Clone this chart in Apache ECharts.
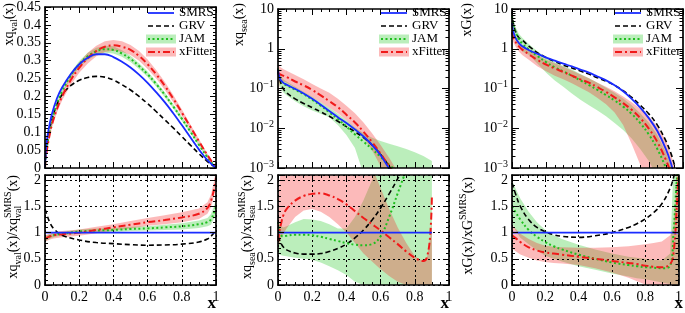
<!DOCTYPE html>
<html>
<head>
<meta charset="utf-8">
<script src="https://cdn.jsdelivr.net/npm/echarts@6/dist/echarts.min.js"></script>
<style>
  html, body { margin: 0; padding: 0; background: #fff; }
  #root { width: 685px; height: 313px; }
</style>
</head>
<body>
<div id="root"></div>
<script>
// ---- valence: x*q_val(x) ----
const xVal = [0, 0.005, 0.01, 0.02, 0.04, 0.07, 0.1, 0.15, 0.2, 0.25, 0.3, 0.35, 0.4, 0.45, 0.5, 0.55, 0.6, 0.65, 0.7, 0.75, 0.8, 0.85, 0.9, 0.95, 1]
const smrsVal = [0, 0.05, 0.074, 0.105, 0.15, 0.195, 0.225, 0.262, 0.29, 0.308, 0.318, 0.318, 0.31, 0.297, 0.281, 0.261, 0.238, 0.212, 0.184, 0.153, 0.12, 0.086, 0.052, 0.022, 0]
const grvVal = [0, 0.04, 0.06, 0.09, 0.135, 0.178, 0.205, 0.23, 0.245, 0.253, 0.256, 0.254, 0.246, 0.233, 0.218, 0.2, 0.18, 0.158, 0.135, 0.112, 0.088, 0.064, 0.04, 0.018, 0]
const jamVal = [0, 0.035, 0.055, 0.085, 0.13, 0.18, 0.215, 0.258, 0.29, 0.312, 0.326, 0.332, 0.33, 0.32, 0.305, 0.285, 0.262, 0.235, 0.205, 0.172, 0.138, 0.102, 0.065, 0.03, 0]
const jamValLo = [0, 0.033, 0.052, 0.081, 0.125, 0.174, 0.208, 0.25, 0.281, 0.302, 0.316, 0.322, 0.32, 0.311, 0.296, 0.277, 0.254, 0.228, 0.198, 0.166, 0.132, 0.097, 0.061, 0.028, 0]
const jamValHi = [0, 0.037, 0.058, 0.089, 0.135, 0.186, 0.222, 0.266, 0.299, 0.322, 0.336, 0.342, 0.34, 0.329, 0.314, 0.293, 0.27, 0.242, 0.212, 0.178, 0.144, 0.107, 0.069, 0.032, 0]
const xfVal = [0, 0.03, 0.046, 0.075, 0.12, 0.165, 0.2, 0.245, 0.28, 0.307, 0.327, 0.339, 0.343, 0.339, 0.33, 0.313, 0.29, 0.262, 0.23, 0.194, 0.155, 0.115, 0.075, 0.036, 0]
const xfValLo = [0, 0.027, 0.042, 0.069, 0.112, 0.155, 0.189, 0.232, 0.266, 0.292, 0.312, 0.324, 0.328, 0.325, 0.316, 0.3, 0.277, 0.25, 0.219, 0.184, 0.146, 0.108, 0.069, 0.032, 0]
const xfValHi = [0, 0.033, 0.05, 0.081, 0.128, 0.175, 0.211, 0.258, 0.294, 0.322, 0.342, 0.354, 0.358, 0.354, 0.344, 0.327, 0.303, 0.274, 0.241, 0.204, 0.164, 0.122, 0.081, 0.04, 0]

const xValR = [0, 0.01, 0.03, 0.05, 0.1, 0.2, 0.3, 0.4, 0.5, 0.6, 0.7, 0.8, 0.9, 0.95, 0.97, 0.99, 1]
const grvValR = [1.45, 1.35, 1.18, 1.08, 0.95, 0.86, 0.81, 0.79, 0.77, 0.76, 0.765, 0.78, 0.82, 0.88, 0.93, 1.0, 1.05]
const jamValR = [0.88, 0.9, 0.93, 0.95, 0.98, 1.02, 1.04, 1.05, 1.07, 1.08, 1.1, 1.12, 1.16, 1.2, 1.25, 1.4, 1.5]
const jamValRLo = [0.83, 0.85, 0.89, 0.91, 0.95, 0.98, 1.0, 1.01, 1.03, 1.04, 1.05, 1.06, 1.09, 1.12, 1.15, 1.28, 1.36]
const jamValRHi = [0.93, 0.95, 0.97, 0.99, 1.01, 1.06, 1.08, 1.09, 1.11, 1.12, 1.15, 1.18, 1.23, 1.28, 1.35, 1.52, 1.64]
const xfValR = [0.88, 0.9, 0.93, 0.95, 0.97, 1.0, 1.05, 1.1, 1.15, 1.2, 1.24, 1.29, 1.36, 1.47, 1.6, 1.85, 2.05]
const xfValRLo = [0.82, 0.84, 0.87, 0.89, 0.91, 0.94, 0.99, 1.04, 1.08, 1.13, 1.16, 1.2, 1.26, 1.36, 1.48, 1.72, 1.9]
const xfValRHi = [0.94, 0.96, 0.99, 1.01, 1.03, 1.06, 1.11, 1.16, 1.22, 1.28, 1.33, 1.39, 1.46, 1.58, 1.72, 2.0, 2.25]

// ---- sea: x*q_sea(x) ----
const xSea = [0, 0.01, 0.03, 0.05, 0.1, 0.15, 0.2, 0.25, 0.3, 0.35, 0.4, 0.45, 0.5, 0.55, 0.6, 0.65, 0.7, 0.75, 0.8, 0.85, 0.9]
const smrsSea = [0.3, 0.18, 0.14, 0.125, 0.098, 0.075, 0.055, 0.039, 0.027, 0.019, 0.0135, 0.0093, 0.0062, 0.0038, 0.0021, 0.00095, 0.0004, null, null, null, null]
const grvSea = [0.27, 0.17, 0.1, 0.078, 0.055, 0.042, 0.033, 0.026, 0.02, 0.015, 0.011, 0.0082, 0.0058, 0.0038, 0.0022, 0.0011, 0.0005, null, null, null, null]
const jamSea = [0.32, 0.19, 0.135, 0.12, 0.093, 0.072, 0.052, 0.037, 0.025, 0.017, 0.011, 0.007, 0.0046, 0.003, 0.0019, 0.0012, 0.0008, 0.0005, null, null, null]
const jamSeaLo = [0.16, 0.11, 0.08, 0.068, 0.048, 0.036, 0.028, 0.023, 0.019, 0.012, 0.0068, 0.0032, 0.0007, 0.0003, 0.0003, 0.0003, 0.0003, 0.0003, 0.0003, 0.0003, 0.0003]
const jamSeaHi = [0.36, 0.23, 0.17, 0.15, 0.11, 0.083, 0.062, 0.045, 0.033, 0.023, 0.016, 0.0105, 0.0075, 0.0058, 0.0048, 0.0041, 0.0035, 0.003, 0.0025, 0.002, 0.0015]
const xfSea = [0.25, 0.23, 0.21, 0.195, 0.15, 0.12, 0.092, 0.067, 0.048, 0.034, 0.022, 0.014, 0.0082, 0.0045, 0.0023, 0.0011, 0.0005, 0.0002, null, null, null]
const xfSeaLo = [0.06, 0.14, 0.15, 0.14, 0.105, 0.08, 0.06, 0.045, 0.033, 0.024, 0.016, 0.01, 0.0058, 0.0028, 0.0011, 0.0004, 0.0003, 0.0003, 0.0003, 0.0003, 0.0003]
const xfSeaHi = [0.4, 0.35, 0.31, 0.28, 0.22, 0.17, 0.13, 0.1, 0.078, 0.055, 0.037, 0.024, 0.014, 0.0075, 0.0038, 0.0018, 0.0008, 0.0003, 0.0003, 0.0003, 0.0003]

const xSeaR = [0, 0.01, 0.02, 0.03, 0.05, 0.1, 0.15, 0.2, 0.25, 0.3, 0.35, 0.4, 0.45, 0.5, 0.55, 0.6, 0.65, 0.7, 0.75, 0.8, 0.85, 0.87, 0.89, 0.9]
const grvSeaR = [0.93, 0.85, 0.78, 0.73, 0.67, 0.61, 0.59, 0.59, 0.6, 0.64, 0.7, 0.78, 0.9, 1.05, 1.24, 1.47, 1.74, 2.03, 2.35, null, null, null, null, null]
const jamSeaR = [1.2, 1.0, 0.94, 0.93, 0.94, 0.96, 0.96, 0.95, 0.92, 0.88, 0.84, 0.8, 0.77, 0.76, 0.78, 0.93, 1.3, 1.75, 2.2, null, null, null, null, null]
const jamSeaRLo = [0.6, 0.58, 0.57, 0.56, 0.55, 0.52, 0.5, 0.48, 0.43, 0.36, 0.28, 0.19, 0.06, 0, 0, 0, 0, 0, 0, 0, 0, 0, 0, 0]
const jamSeaRHi = [1.25, 1.15, 1.12, 1.1, 1.12, 1.2, 1.26, 1.25, 1.22, 1.16, 1.08, 1.08, 1.3, 1.62, 2.0, 2.5, 2.5, 2.5, 2.5, 2.5, 2.5, 2.5, 2.5, 2.5]
const xfSeaR = [0.84, 1.05, 1.2, 1.32, 1.45, 1.61, 1.7, 1.74, 1.75, 1.71, 1.64, 1.54, 1.41, 1.28, 1.16, 1.04, 0.91, 0.78, 0.64, 0.52, 0.46, 0.52, 0.95, 1.7]
const xfSeaRLo = [0.7, 0.8, 0.9, 0.97, 1.08, 1.3, 1.42, 1.45, 1.4, 1.3, 1.16, 1.0, 0.8, 0.6, 0.45, 0.3, 0.17, 0.06, 0, 0, 0, 0, 0, 0]
const xfSeaRHi = [1.5, 2.0, 2.3, 2.5, 2.5, 2.5, 2.5, 2.5, 2.5, 2.5, 2.5, 2.5, 2.5, 2.5, 2.25, 1.85, 1.45, 1.1, 0.8, 0.55, 0.45, 0.5, 0.9, 1.2]

// ---- gluon: x*G(x) ----
const xGlu = [0, 0.005, 0.01, 0.02, 0.04, 0.06, 0.1, 0.15, 0.2, 0.25, 0.3, 0.35, 0.4, 0.45, 0.5, 0.55, 0.6, 0.65, 0.7, 0.75, 0.8, 0.85, 0.9, 0.93, 0.95]
const smrsGlu = [4.4, 3.0, 2.5, 1.9, 1.4, 1.15, 0.92, 0.74, 0.6, 0.5, 0.42, 0.36, 0.3, 0.25, 0.2, 0.16, 0.12, 0.085, 0.055, 0.033, 0.018, 0.0085, 0.003, 0.0013, 0.0006]
const grvGlu = [8.5, 5.2, 4.0, 2.8, 1.9, 1.65, 1.15, 0.79, 0.6, 0.48, 0.39, 0.33, 0.275, 0.23, 0.186, 0.152, 0.12, 0.088, 0.06, 0.038, 0.023, 0.012, 0.0048, 0.0023, 0.0012]
const jamGlu = [6.5, 4.5, 3.6, 2.7, 1.75, 1.35, 0.95, 0.65, 0.46, 0.34, 0.27, 0.21, 0.16, 0.122, 0.092, 0.068, 0.05, 0.035, 0.023, 0.0135, 0.007, 0.003, 0.001, 0.0004, 0.0002]
const jamGluLo = [4.5, 3.0, 2.3, 1.7, 1.1, 0.85, 0.7, 0.42, 0.25, 0.16, 0.11, 0.075, 0.052, 0.038, 0.028, 0.02, 0.0135, 0.009, 0.0055, 0.003, 0.0015, 0.0006, 0.0003, 0.0003, 0.0003]
const jamGluHi = [9, 6, 4.8, 3.6, 2.4, 1.9, 1.3, 0.85, 0.6, 0.46, 0.37, 0.3, 0.23, 0.18, 0.14, 0.105, 0.078, 0.056, 0.038, 0.024, 0.014, 0.0068, 0.0025, 0.0011, 0.0005]
const xfGlu = [2.6, 2.1, 1.8, 1.5, 1.15, 0.95, 0.72, 0.52, 0.4, 0.32, 0.26, 0.21, 0.17, 0.14, 0.108, 0.082, 0.06, 0.043, 0.029, 0.018, 0.0098, 0.0045, 0.0016, 0.0007, 0.0003]
const xfGluLo = [1.9, 1.6, 1.4, 1.15, 0.85, 0.7, 0.52, 0.36, 0.27, 0.21, 0.17, 0.135, 0.105, 0.08, 0.058, 0.04, 0.025, 0.012, 0.004, 0.0012, 0.0003, 0.0003, 0.0003, 0.0003, 0.0003]
const xfGluHi = [3.5, 2.7, 2.3, 1.9, 1.45, 1.2, 0.92, 0.68, 0.53, 0.43, 0.35, 0.285, 0.225, 0.18, 0.14, 0.11, 0.085, 0.063, 0.045, 0.031, 0.02, 0.011, 0.005, 0.0022, 0.0011]

const xGluR = [0, 0.02, 0.05, 0.1, 0.15, 0.2, 0.25, 0.3, 0.4, 0.5, 0.6, 0.7, 0.75, 0.8, 0.85, 0.9, 0.95, 0.97, 0.99, 1]
const grvGluR = [1.95, 1.75, 1.5, 1.25, 1.1, 1.02, 0.96, 0.93, 0.91, 0.94, 1.0, 1.1, 1.17, 1.26, 1.38, 1.55, 1.85, 2.05, 2.3, null]
const jamGluR = [1.5, 1.4, 1.25, 1.05, 0.92, 0.82, 0.74, 0.68, 0.58, 0.5, 0.43, 0.38, 0.36, 0.34, 0.33, 0.32, 0.37, 1.0, 2.0, 2.3]
const jamGluRLo = [1.2, 1.05, 0.9, 0.78, 0.66, 0.56, 0.5, 0.45, 0.36, 0.29, 0.22, 0.16, 0.13, 0.11, 0.08, 0.05, 0.02, 0, 0, 0]
const jamGluRHi = [2.0, 1.85, 1.65, 1.4, 1.2, 1.05, 0.95, 0.88, 0.77, 0.68, 0.6, 0.54, 0.52, 0.5, 0.48, 0.47, 0.6, 2.3, 2.3, 2.3]
const xfGluR = [0.95, 0.9, 0.82, 0.72, 0.66, 0.62, 0.6, 0.58, 0.54, 0.5, 0.46, 0.42, 0.4, 0.37, 0.35, 0.34, 0.4, 0.6, 1.5, 2.1]
const xfGluRLo = [0.7, 0.65, 0.58, 0.52, 0.47, 0.44, 0.42, 0.41, 0.38, 0.32, 0.24, 0.14, 0.07, 0.01, 0, 0, 0, 0, 0, 0]
const xfGluRHi = [1.15, 1.08, 0.98, 0.88, 0.8, 0.75, 0.73, 0.72, 0.71, 0.71, 0.72, 0.74, 0.76, 0.78, 0.8, 0.83, 0.95, 1.1, 2.2, 2.3]

const legendNames = ['SMRS', 'GRV', 'JAM', 'xFitter']
const xTicksLabels = ['0', '0.2', '0.4', '0.6', '0.8', '1']
// minor tick values for the log axes (2..9 in each decade)
const logMinorTicks = [
  0.002, 0.003, 0.004, 0.005, 0.006, 0.007, 0.008, 0.009,
  0.02, 0.03, 0.04, 0.05, 0.06, 0.07, 0.08, 0.09,
  0.2, 0.3, 0.4, 0.5, 0.6, 0.7, 0.8, 0.9,
  2, 3, 4, 5, 6, 7, 8, 9
]

const SERIF = '"Liberation Serif", "Times New Roman", serif'
const BLUE = '#1a2cff'
const BLACK = '#000'
const GREEN = '#1fbf1f'
const RED = '#f01a1a'
const GREEN_BAND = 'rgba(30, 200, 30, 0.3)'
const RED_BAND = 'rgba(245, 40, 40, 0.32)'

const styles = {
  smrs: { color: BLUE, width: 1.8, type: 'solid' },
  grv: { color: BLACK, width: 1.6, type: [5, 3] },
  jam: { color: GREEN, width: 2, type: [2, 2.5] },
  xf: { color: RED, width: 2, type: [7, 3, 2, 3] }
}

const COLS = [45, 278, 512]
const W = 171
const TOP = { top: 3, height: 165 }
const BOT = { top: 175, height: 110 }

// panels: 0-2 top row, 3-5 ratio row
const panels = [
  { left: COLS[0], ...TOP, log: false, ratio: false },
  { left: COLS[1], ...TOP, log: true, ratio: false },
  { left: COLS[2], ...TOP, log: true, ratio: false },
  { left: COLS[0], ...BOT, log: false, ratio: true },
  { left: COLS[1], ...BOT, log: false, ratio: true },
  { left: COLS[2], ...BOT, log: false, ratio: true }
]

const labelStyle = { fontFamily: SERIF, fontSize: 14, color: '#000' }
const frameLine = { show: true, onZero: false, lineStyle: { color: '#000', width: 1.7 } }
const tickStyle = { color: '#000', width: 1 }

const grids = []
const xAxes = []
const yAxes = []
const mainX = []
const mainY = []

panels.forEach((p, g) => {
  grids.push({ left: p.left, top: p.top, width: W, height: p.height })

  const xCommon = {
    type: 'value', gridIndex: g, min: 0, max: 1, interval: 0.2,
    axisLine: frameLine,
    axisTick: { show: true, inside: true, length: 6, lineStyle: tickStyle },
    minorTick: { show: true, splitNumber: 4, length: 3, lineStyle: tickStyle },
    splitLine: { show: false },
    z: 10
  }
  mainX[g] = xAxes.length
  xAxes.push({
    ...xCommon, position: 'bottom',
    axisLabel: {
      show: p.ratio, ...labelStyle, margin: 5,
      formatter: v => xTicksLabels[Math.round(v / 0.2)]
    }
  })
  xAxes.push({ ...xCommon, position: 'top', axisLabel: { show: false } })

  let yCommon
  if (p.log) {
    yCommon = {
      type: 'log', logBase: 10, gridIndex: g, min: 0.001, max: 10,
      axisLine: frameLine,
      axisTick: { show: true, inside: true, length: 7, lineStyle: tickStyle },
      splitLine: { show: false },
      z: 10
    }
  } else {
    yCommon = {
      type: 'value', gridIndex: g,
      min: 0, max: p.ratio ? 2.1 : 0.45, interval: p.ratio ? 0.5 : 0.05,
      axisLine: frameLine,
      axisTick: { show: true, inside: true, length: 6, lineStyle: tickStyle },
      minorTick: { show: true, splitNumber: 5, length: 3, lineStyle: tickStyle },
      splitLine: { show: false },
      z: 10
    }
  }
  mainY[g] = yAxes.length
  yAxes.push({
    ...yCommon, position: 'left',
    axisLabel: p.log ? {
      ...labelStyle, margin: 4, lineHeight: 18,
      formatter: v => {
        const e = Math.round(Math.log10(v))
        if (e === 0) return '1'
        if (e === 1) return '10'
        return '10{sup|\u2212' + (-e) + '}'
      },
      rich: { sup: { fontFamily: SERIF, fontSize: 10, verticalAlign: 'top', lineHeight: 10 } }
    } : {
      ...labelStyle, margin: 4,
      formatter: v => (v > 2.05 ? '' : String(+v.toFixed(2)))
    }
  })
  yAxes.push({ ...yCommon, position: 'right', axisLabel: { show: false } })

  if (p.ratio) {
    // dotted grid, kept under the curves
    const dotted = { show: true, lineStyle: { color: '#000', width: 1, type: [2, 3] } }
    xAxes.push({
      type: 'value', gridIndex: g, position: 'bottom', min: 0, max: 1, interval: 0.2,
      axisLine: { show: false }, axisTick: { show: false }, axisLabel: { show: false },
      splitLine: dotted, z: 3
    })
    yAxes.push({
      type: 'value', gridIndex: g, position: 'left', min: 0, max: 2.1, interval: 0.5,
      axisLine: { show: false }, axisTick: { show: false }, axisLabel: { show: false },
      splitLine: dotted, z: 3
    })
  }
})

const lineSeries = (g, xs, ys, st) => ({
  type: 'line',
  xAxisIndex: mainX[g], yAxisIndex: mainY[g],
  data: xs.map((x, i) => [x, ys[i]]),
  showSymbol: false, symbol: 'none',
  smooth: 0.4,
  lineStyle: { color: st.color, width: st.width, type: st.type },
  itemStyle: { color: st.color },
  silent: true, z: 5
})

const bandSeries = (g, xs, lo, hi, fill) => {
  const data = xs.map((x, i) => [x, lo[i], hi[i]]).filter(d => d[1] != null && d[2] != null)
  return {
    type: 'custom',
    xAxisIndex: mainX[g], yAxisIndex: mainY[g],
    data,
    encode: { x: 0, y: [1, 2] },
    silent: true, z: 2,
    renderItem: (params, api) => {
      if (params.dataIndex !== 0) return null
      const upper = data.map(d => api.coord([d[0], d[2]]))
      const lower = data.map(d => api.coord([d[0], d[1]])).reverse()
      const cs = params.coordSys
      return {
        type: 'polygon',
        shape: { points: upper.concat(lower) },
        style: { fill },
        clipPath: { type: 'rect', shape: { x: cs.x, y: cs.y, width: cs.width, height: cs.height } }
      }
    }
  }
}

// short inside ticks at 2..9 of each decade, both sides of a log panel
const logMinorSeries = g => ({
  type: 'custom',
  xAxisIndex: mainX[g], yAxisIndex: mainY[g],
  data: logMinorTicks.map(v => [0, v]),
  encode: { x: 0, y: 1 },
  silent: true, z: 11,
  renderItem: (params, api) => {
    const cs = params.coordSys
    const y = Math.round(api.coord([0, api.value(1)])[1]) + 0.5
    const st = { stroke: '#000', lineWidth: 1 }
    return {
      type: 'group',
      children: [
        { type: 'line', shape: { x1: cs.x, y1: y, x2: cs.x + 3.5, y2: y }, style: st },
        { type: 'line', shape: { x1: cs.x + cs.width - 3.5, y1: y, x2: cs.x + cs.width, y2: y }, style: st }
      ]
    }
  }
})

const series = [
  // top row
  bandSeries(0, xVal, jamValLo, jamValHi, GREEN_BAND),
  bandSeries(0, xVal, xfValLo, xfValHi, RED_BAND),
  lineSeries(0, xVal, grvVal, styles.grv),
  lineSeries(0, xVal, jamVal, styles.jam),
  lineSeries(0, xVal, xfVal, styles.xf),
  lineSeries(0, xVal, smrsVal, styles.smrs),

  bandSeries(1, xSea, jamSeaLo, jamSeaHi, GREEN_BAND),
  bandSeries(1, xSea, xfSeaLo, xfSeaHi, RED_BAND),
  lineSeries(1, xSea, grvSea, styles.grv),
  lineSeries(1, xSea, jamSea, styles.jam),
  lineSeries(1, xSea, xfSea, styles.xf),
  lineSeries(1, xSea, smrsSea, styles.smrs),
  logMinorSeries(1),

  bandSeries(2, xGlu, jamGluLo, jamGluHi, GREEN_BAND),
  bandSeries(2, xGlu, xfGluLo, xfGluHi, RED_BAND),
  lineSeries(2, xGlu, grvGlu, styles.grv),
  lineSeries(2, xGlu, jamGlu, styles.jam),
  lineSeries(2, xGlu, xfGlu, styles.xf),
  lineSeries(2, xGlu, smrsGlu, styles.smrs),
  logMinorSeries(2),

  // ratio row
  bandSeries(3, xValR, jamValRLo, jamValRHi, GREEN_BAND),
  bandSeries(3, xValR, xfValRLo, xfValRHi, RED_BAND),
  lineSeries(3, xValR, grvValR, styles.grv),
  lineSeries(3, xValR, jamValR, styles.jam),
  lineSeries(3, xValR, xfValR, styles.xf),
  lineSeries(3, [0, 1], [1, 1], styles.smrs),

  bandSeries(4, xSeaR, jamSeaRLo, jamSeaRHi, GREEN_BAND),
  bandSeries(4, xSeaR, xfSeaRLo, xfSeaRHi, RED_BAND),
  lineSeries(4, xSeaR, grvSeaR, styles.grv),
  lineSeries(4, xSeaR, jamSeaR, styles.jam),
  lineSeries(4, xSeaR, xfSeaR, styles.xf),
  lineSeries(4, [0, 0.9], [1, 1], styles.smrs),

  bandSeries(5, xGluR, jamGluRLo, jamGluRHi, GREEN_BAND),
  bandSeries(5, xGluR, xfGluRLo, xfGluRHi, RED_BAND),
  lineSeries(5, xGluR, grvGluR, styles.grv),
  lineSeries(5, xGluR, jamGluR, styles.jam),
  lineSeries(5, xGluR, xfGluR, styles.xf),
  lineSeries(5, [0, 1], [1, 1], styles.smrs)
]

// ---- titles (rotated, with sub/superscripts) ----
const measureCtx = document.createElement('canvas').getContext('2d')
const textWidth = (t, size) => {
  measureCtx.font = size + 'px ' + SERIF
  return measureCtx.measureText(t).width
}
const MAIN = 14
const SMALL = 10

// tokens: [text, kind, stacked]; kind n | sub | sup
const rotatedTitle = (x, y, tokens) => {
  const parts = []
  let cur = 0
  let held = 0
  tokens.forEach(([t, kind, stacked]) => {
    const size = kind === 'n' ? MAIN : SMALL
    const w = textWidth(t, size)
    const dy = kind === 'sub' ? 5 : kind === 'sup' ? -5 : 0
    parts.push({ t, size, dy, x: cur })
    if (stacked) {
      held = w
    } else {
      cur += Math.max(w, held)
      held = 0
    }
  })
  return {
    type: 'group', x, y, rotation: Math.PI / 2,
    children: parts.map(p => ({
      type: 'text', x: p.x - cur, y: p.dy,
      style: { text: p.t, font: p.size + 'px ' + SERIF, fill: '#000', verticalAlign: 'middle' }
    }))
  }
}

const titles = [
  rotatedTitle(9, 3, [['xq', 'n'], ['val', 'sub'], ['(x)', 'n']]),
  rotatedTitle(239, 3, [['xq', 'n'], ['sea', 'sub'], ['(x)', 'n']]),
  rotatedTitle(467, 3, [['xG(x)', 'n']]),
  rotatedTitle(13, 175, [['xq', 'n'], ['val', 'sub'], ['(x)/xq', 'n'], ['SMRS', 'sup', true], ['val', 'sub'], ['(x)', 'n']]),
  rotatedTitle(247, 175, [['xq', 'n'], ['sea', 'sub'], ['(x)/xq', 'n'], ['SMRS', 'sup', true], ['sea', 'sub'], ['(x)', 'n']]),
  rotatedTitle(468, 177, [['xG(x)/xG', 'n'], ['SMRS', 'sup'], ['(x)', 'n']])
]

const xTitles = COLS.map(l => ({
  type: 'text', x: l + W, y: 312,
  style: { text: 'x', font: 'bold 17px ' + SERIF, fill: '#000', align: 'right', verticalAlign: 'bottom' }
}))

// ---- legends ----
const legendRows = [13, 26, 39, 52]
const legendStyles = [styles.smrs, styles.grv, styles.jam, styles.xf]
const legendBands = [null, null, GREEN_BAND, RED_BAND]
const legends = []
COLS.forEach(l => {
  legendNames.forEach((name, i) => {
    const y = legendRows[i]
    const st = legendStyles[i]
    if (legendBands[i]) {
      legends.push({
        type: 'rect', shape: { x: l + 101, y: y - 4.5, width: 30, height: 9 },
        style: { fill: legendBands[i] }
      })
    }
    legends.push({
      type: 'line', shape: { x1: l + 103, y1: y, x2: l + 129, y2: y },
      style: { stroke: st.color, lineWidth: st.width, lineDash: st.type === 'solid' ? null : st.type }
    })
    legends.push({
      type: 'text', x: l + 134, y,
      style: { text: name, font: '13px ' + SERIF, fill: '#000', verticalAlign: 'middle' }
    })
  })
})

const chart = echarts.init(document.getElementById('root'), null, { renderer: 'canvas' })
chart.setOption({
  animation: false,
  backgroundColor: '#fff',
  textStyle: { fontFamily: SERIF },
  grid: grids,
  xAxis: xAxes,
  yAxis: yAxes,
  series,
  graphic: { elements: [...titles, ...xTitles, ...legends] }
})
</script>
</body>
</html>
